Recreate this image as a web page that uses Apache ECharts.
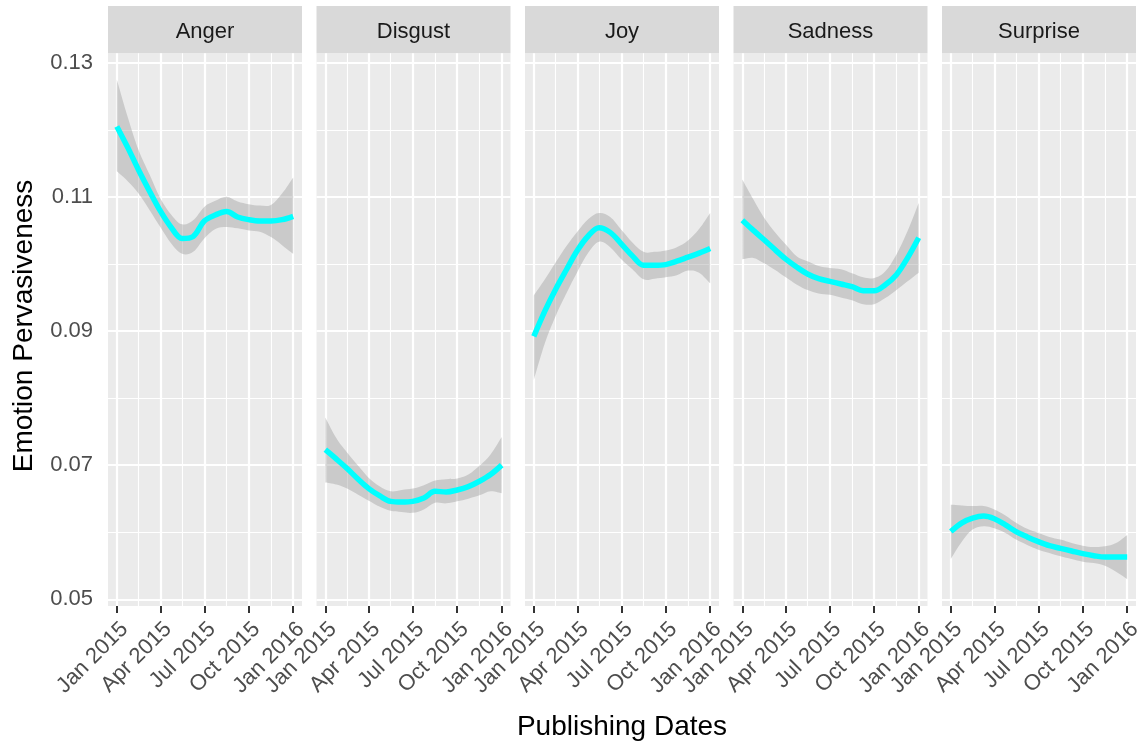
<!DOCTYPE html>
<html>
<head>
<meta charset="utf-8">
<title>Emotion Pervasiveness</title>
<script src="https://cdn.jsdelivr.net/npm/echarts@6.0.0/dist/echarts.min.js"></script>
<style>
  html, body { margin: 0; padding: 0; background: #fff; }
  #main { width: 1141px; height: 745px; }
</style>
</head>
<body>
<div id="main"></div>
<script>
// days since 2015-01-01
const days = [0, 23, 45, 68, 90, 113, 135, 158, 181, 204, 227, 250, 273, 296, 319, 342, 365]
const emotions = ['Anger', 'Disgust', 'Joy', 'Sadness', 'Surprise']

// loess fit + confidence band
const angerFit = [0.1205, 0.1173, 0.1140, 0.1108, 0.1079, 0.1054, 0.1038, 0.1041, 0.1064, 0.1073, 0.1078, 0.1070, 0.1066, 0.1064, 0.1064, 0.1066, 0.1071]
const angerLow = [0.1138, 0.1123, 0.1105, 0.1080, 0.1055, 0.1030, 0.1015, 0.1018, 0.1038, 0.1052, 0.1055, 0.1053, 0.1050, 0.1048, 0.1040, 0.1028, 0.1015]
const angerHigh = [0.1275, 0.1218, 0.1170, 0.1133, 0.1098, 0.1073, 0.1059, 0.1065, 0.1085, 0.1094, 0.1100, 0.1093, 0.1089, 0.1087, 0.1088, 0.1105, 0.1129]

const disgustFit = [0.0723, 0.0709, 0.0695, 0.0679, 0.0665, 0.0654, 0.0646, 0.0645, 0.0646, 0.0651, 0.0661, 0.0660, 0.0663, 0.0668, 0.0676, 0.0686, 0.0700]
const disgustLow = [0.0674, 0.0671, 0.0665, 0.0656, 0.0647, 0.0638, 0.0632, 0.0630, 0.0629, 0.0634, 0.0644, 0.0643, 0.0646, 0.0650, 0.0655, 0.0661, 0.0658]
const disgustHigh = [0.0771, 0.0740, 0.0719, 0.0699, 0.0681, 0.0668, 0.0661, 0.0663, 0.0665, 0.0670, 0.0677, 0.0679, 0.0680, 0.0686, 0.0699, 0.0716, 0.0742]

const joyFit = [0.0892, 0.0930, 0.0962, 0.0992, 0.1020, 0.1042, 0.1054, 0.1047, 0.1030, 0.1012, 0.0998, 0.0998, 0.0999, 0.1004, 0.1010, 0.1016, 0.1023]
const joyLow = [0.0827, 0.0882, 0.0922, 0.0957, 0.0988, 0.1017, 0.1033, 0.1025, 0.1007, 0.0992, 0.0977, 0.0978, 0.0980, 0.0983, 0.0990, 0.0987, 0.0971]
const joyHigh = [0.0953, 0.0977, 0.1002, 0.1027, 0.1048, 0.1067, 0.1076, 0.1070, 0.1051, 0.1032, 0.1018, 0.1018, 0.1020, 0.1025, 0.1035, 0.1052, 0.1076]

const sadnessFit = [0.1065, 0.1050, 0.1036, 0.1021, 0.1007, 0.0995, 0.0985, 0.0978, 0.0974, 0.0970, 0.0966, 0.0960, 0.0960, 0.0969, 0.0984, 0.1009, 0.1039]
const sadnessLow = [0.1007, 0.1009, 0.1001, 0.0991, 0.0980, 0.0969, 0.0961, 0.0956, 0.0954, 0.0950, 0.0946, 0.0940, 0.0940, 0.0949, 0.0961, 0.0974, 0.0987]
const sadnessHigh = [0.1126, 0.1096, 0.1069, 0.1047, 0.1029, 0.1011, 0.1004, 0.0997, 0.0994, 0.0992, 0.0986, 0.0980, 0.0979, 0.0989, 0.1014, 0.1049, 0.1091]

const surpriseFit = [0.0601, 0.0614, 0.0621, 0.0624, 0.0620, 0.0611, 0.0601, 0.0593, 0.0586, 0.0580, 0.0576, 0.0572, 0.0568, 0.0565, 0.0563, 0.0563, 0.0563]
const surpriseLow = [0.0560, 0.0586, 0.0604, 0.0609, 0.0606, 0.0599, 0.0589, 0.0581, 0.0574, 0.0569, 0.0564, 0.0560, 0.0556, 0.0554, 0.0550, 0.0541, 0.0530]
const surpriseHigh = [0.0641, 0.0640, 0.0639, 0.0639, 0.0634, 0.0625, 0.0614, 0.0605, 0.0599, 0.0593, 0.0589, 0.0584, 0.0580, 0.0578, 0.0579, 0.0584, 0.0596]

// axis ticks
const tickDays = [0, 90, 181, 273, 365]
const tickLabels = ['Jan 2015', 'Apr 2015', 'Jul 2015', 'Oct 2015', 'Jan 2016']
const minorDays = [45, 135, 227, 319]
const yTicks = [0.05, 0.07, 0.09, 0.11, 0.13]
const yMinor = [0.06, 0.08, 0.10, 0.12]

const fits = [angerFit, disgustFit, joyFit, sadnessFit, surpriseFit]
const lows = [angerLow, disgustLow, joyLow, sadnessLow, surpriseLow]
const highs = [angerHigh, disgustHigh, joyHigh, sadnessHigh, surpriseHigh]

const FONT = '"Liberation Sans", Arial, Helvetica, sans-serif'
const panelTop = 53.3
const panelH = 552.7
const panelW = 194
const panelLeft = (i) => 108 + i * 208.5

const pairs = (ys) => days.map((d, k) => [d, ys[k]])

// smooth path through pixel points (cardinal-like bezier)
function smoothPath(pts, start) {
  let s = (start ? 'M' : 'L') + pts[0][0] + ' ' + pts[0][1]
  for (let k = 0; k < pts.length - 1; k++) {
    const p0 = pts[k - 1] || pts[k], p1 = pts[k], p2 = pts[k + 1], p3 = pts[k + 2] || p2
    const t = 0.18
    s += ' C' + (p1[0] + (p2[0] - p0[0]) * t) + ' ' + (p1[1] + (p2[1] - p0[1]) * t) +
      ' ' + (p2[0] - (p3[0] - p1[0]) * t) + ' ' + (p2[1] - (p3[1] - p1[1]) * t) +
      ' ' + p2[0] + ' ' + p2[1]
  }
  return s
}

// ggplot-like grid lines (white, drawn under the ribbon)
const gridLines = {
  z: 1,
  silent: true,
  symbol: ['none', 'none'],
  animation: false,
  label: { show: false },
  emphasis: { disabled: true },
  lineStyle: { color: '#ffffff', type: 'solid', width: 2.2 },
  data: [
    ...tickDays.map(d => ({ xAxis: d, lineStyle: { width: 2.2 } })),
    ...minorDays.map(d => ({ xAxis: d, lineStyle: { width: 1.1 } })),
    ...yTicks.map(v => ({ yAxis: v, lineStyle: { width: 2.2 } })),
    ...yMinor.map(v => ({ yAxis: v, lineStyle: { width: 1.1 } }))
  ]
}

const grids = []
const xAxes = []
const yAxes = []
const series = []
const graphics = []

emotions.forEach((name, i) => {
  const left = panelLeft(i)
  grids.push({
    left: left, top: panelTop, width: panelW, height: panelH,
    show: true, backgroundColor: '#EBEBEB', borderWidth: 0,
    containLabel: false, outerBoundsMode: 'none'
  })
  xAxes.push({
    type: 'value', gridIndex: i, min: -18.25, max: 383.25,
    axisLine: { show: false },
    splitLine: { show: false },
    axisTick: { show: true, customValues: tickDays, length: 7, lineStyle: { color: '#333333', width: 2 } },
    axisLabel: {
      customValues: tickDays,
      formatter: (v) => tickLabels[tickDays.indexOf(v)],
      rotate: 45, align: 'right', verticalAlign: 'top', margin: 12,
      fontSize: 22, color: '#4D4D4D', fontFamily: FONT
    }
  })
  yAxes.push({
    type: 'value', gridIndex: i, min: 0.0490, max: 0.1314,
    show: i === 0,
    axisLine: { show: false },
    splitLine: { show: false },
    axisTick: { show: true, customValues: yTicks, length: 7, lineStyle: { color: '#333333', width: 2 } },
    axisLabel: {
      customValues: yTicks,
      formatter: (v) => v.toFixed(2),
      margin: 15, fontSize: 22, color: '#4D4D4D', fontFamily: FONT
    }
  })

  // confidence ribbon
  series.push({
    name: name + ' band', type: 'custom', xAxisIndex: i, yAxisIndex: i,
    data: days.map((d, k) => [d, lows[i][k], highs[i][k]]),
    encode: { x: 0, y: [1, 2] },
    silent: true, z: 2,
    markLine: gridLines,
    renderItem: (params, api) => {
      if (params.dataIndex !== 0) return null
      const upper = days.map((d, k) => api.coord([d, highs[i][k]]))
      const lower = days.map((d, k) => api.coord([d, lows[i][k]])).reverse()
      return {
        type: 'path',
        shape: { pathData: smoothPath(upper, true) + ' ' + smoothPath(lower, false) + ' Z' },
        style: { fill: 'rgba(153,153,153,0.4)', stroke: null }
      }
    }
  })
  // loess line
  series.push({
    name: name, type: 'line', xAxisIndex: i, yAxisIndex: i,
    data: pairs(fits[i]), smooth: 0.35, z: 3,
    symbol: 'none', lineStyle: { color: '#00FFFF', width: 5.5 }
  })

  // facet strip
  graphics.push({
    type: 'rect', shape: { x: left, y: 6, width: panelW, height: panelTop - 6 },
    style: { fill: '#D9D9D9' }, silent: true
  })
  graphics.push({
    type: 'text', x: left + panelW / 2, y: 31.5, silent: true,
    style: {
      text: name, fill: '#1A1A1A', fontSize: 22, fontFamily: FONT,
      align: 'center', verticalAlign: 'middle', textAlign: 'center', textVerticalAlign: 'middle'
    }
  })
})

// axis titles
graphics.push({
  type: 'text', x: 622, y: 727, silent: true,
  style: {
    text: 'Publishing Dates', fill: '#000000', fontSize: 28, fontFamily: FONT,
    align: 'center', verticalAlign: 'middle', textAlign: 'center', textVerticalAlign: 'middle'
  }
})
graphics.push({
  type: 'text', x: 24, y: 326, rotation: Math.PI / 2, silent: true,
  style: {
    text: 'Emotion Pervasiveness', fill: '#000000', fontSize: 28, fontFamily: FONT,
    align: 'center', verticalAlign: 'middle', textAlign: 'center', textVerticalAlign: 'middle'
  }
})

const myChart = echarts.init(document.getElementById('main'))
myChart.setOption({
  animation: false,
  backgroundColor: '#ffffff',
  grid: grids,
  xAxis: xAxes,
  yAxis: yAxes,
  series: series,
  graphic: graphics
})
</script>
</body>
</html>
